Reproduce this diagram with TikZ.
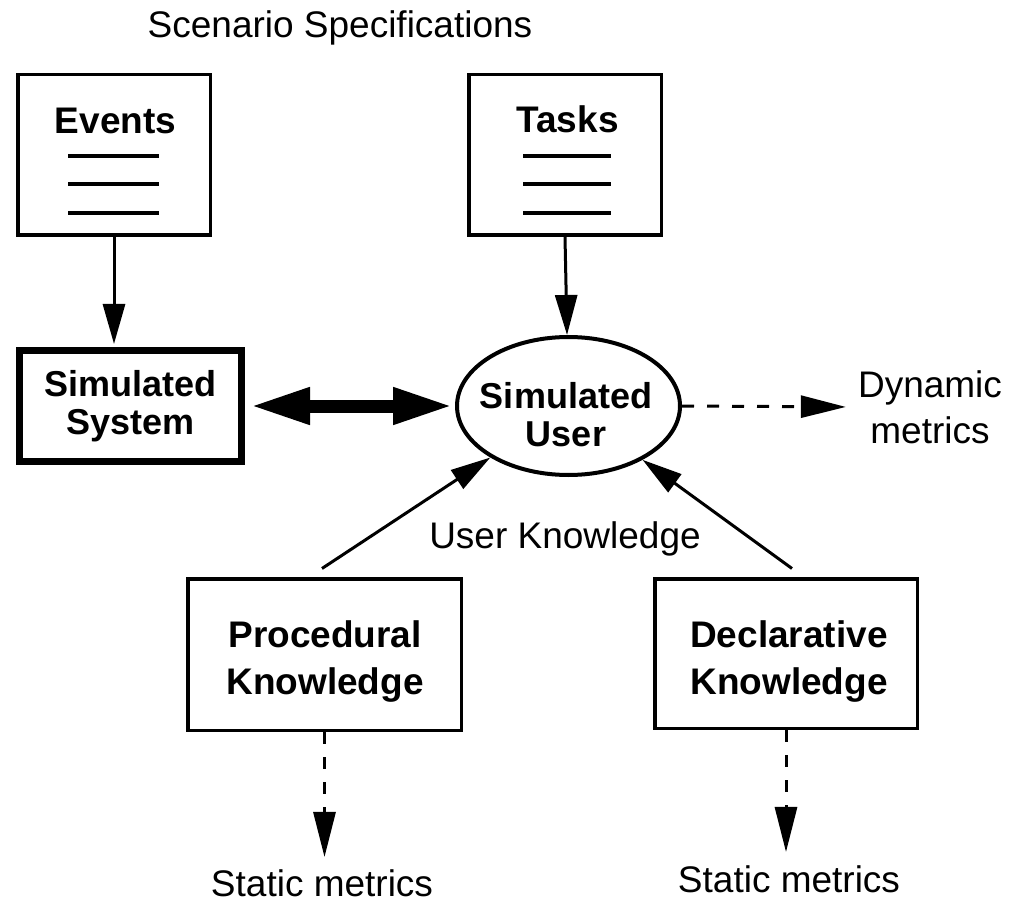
\documentclass[tikz,border=0pt]{standalone}
\usepackage{fontspec}
\setmainfont{Liberation Sans}
\usetikzlibrary{arrows.meta,shapes.geometric}
\begin{document}
\begin{tikzpicture}[x=1pt,y=-1pt,
  box/.style={draw, line width=3.5pt, inner sep=0pt},
  boldA/.style={font=\fontsize{36}{38.5}\selectfont\bfseries, align=center, inner sep=0pt},
  boldB/.style={font=\fontsize{37}{47}\selectfont\bfseries, align=center, inner sep=0pt},
  plain/.style={font=\fontsize{37}{46}\selectfont, align=center, inner sep=0pt},
  arr/.style={line width=3pt, -{Triangle[length=40pt,width=22pt]}},
  darr/.style={line width=3pt, dash pattern=on 12pt off 13pt, -{Triangle[length=45pt,width=22pt]}},
  rulestroke/.style={line width=3.3pt}
]
\useasboundingbox (0,0) rectangle (1010,904);

% title
\node[plain, anchor=base] (scen) at (340,38) {Scenario Specifications};

% Events
\node[box, minimum width=192.5pt, minimum height=160.5pt] (events) at (114,155) {};
\node[boldB, anchor=base] (eventsT) at (115.5,134) {Events};
\draw[rulestroke] (68,156) -- (159,156);
\draw[rulestroke] (68,184) -- (159,184);
\draw[rulestroke] (68,213) -- (159,213);

% Tasks
\node[box, minimum width=192.5pt, minimum height=160.5pt] (tasks) at (565,155) {};
\node[boldB, anchor=base] (tasksT) at (567.5,133) {Tasks};
\draw[rulestroke] (523,156) -- (611,156);
\draw[rulestroke] (523,184) -- (611,184);
\draw[rulestroke] (523,213) -- (611,213);

% Simulated System
\node[draw, line width=7pt, minimum width=222pt, minimum height=111pt, boldA] (simsys) at (130.5,406) {Simulated\\System};

% Simulated User
\node[draw, ellipse, line width=4pt, minimum width=223pt, minimum height=138pt, inner sep=0pt] (su) at (568.5,406) {};
\node[boldA] (suT) at (566,414.5) {Simulated\\User};

% Dynamic metrics
\node[plain] (dynT) at (930,407) {Dynamic\\metrics};

% User Knowledge
\node[plain, anchor=base] (ukT) at (565,548) {User Knowledge};

% Procedural
\node[box, minimum width=273.5pt, minimum height=151.5pt] (proc) at (324.5,654.5) {};
\node[boldB] (procT) at (325,662) {Procedural\\Knowledge};

% Declarative
\node[box, minimum width=262.5pt, minimum height=149.5pt] (decl) at (786,653.5) {};
\node[boldB] (declT) at (789,662) {Declarative\\Knowledge};

% Static metrics
\node[plain, anchor=base] (st1) at (322,896) {Static metrics};
\node[plain, anchor=base] (st2) at (789,892) {Static metrics};

% connectors
\draw[arr, shorten >=3pt] (events.south) -- (events.south |- simsys.north);
\draw[arr] (tasks.south) -- (su);
\draw[line width=13pt, {Triangle[length=60pt,width=34pt]}-{Triangle[length=60pt,width=34pt]}, shorten <=5pt, shorten >=2pt] (simsys.east) -- (su.west);
\draw[darr, shorten >=12pt] (su.east) -- (dynT.west);
\draw[arr] ([xshift=-2.5pt,yshift=8.5pt]proc.north) -- (su);
\draw[arr] ([xshift=6pt,yshift=8.5pt]decl.north) -- (su);
\draw[darr, shorten >=12pt] (proc.south) -- (proc.south |- st1.north);
\draw[darr, shorten >=13pt] (decl.south) -- (decl.south |- st2.north);
\end{tikzpicture}
\end{document}
